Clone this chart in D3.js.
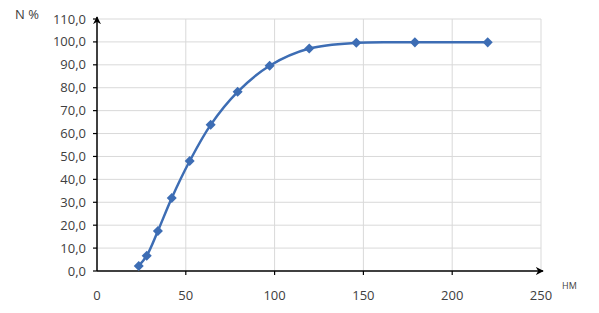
<!DOCTYPE html>
<html>
<head>
<meta charset="utf-8">
<script src="https://cdn.jsdelivr.net/npm/d3@7"></script>
<style>
  body { margin: 0; background: #fff; }
  text { font-family: "Open Sans", "Liberation Sans", sans-serif; fill: #404040; }
</style>
</head>
<body>
<script>
// wavelength (nm) vs N %
var xValues = [23.5, 28, 34.3, 42.1, 52.2, 64, 79.2, 97.2, 119.5, 146, 179, 220];
var yValues = [2.2, 6.7, 17.5, 31.9, 48, 63.8, 78.2, 89.6, 97.1, 99.6, 99.8, 99.8];
var xTicks = [0, 50, 100, 150, 200, 250];
var yTicks = [0, 10, 20, 30, 40, 50, 60, 70, 80, 90, 100, 110];

var w = 599, h = 313;
var svg = d3.select("body").append("svg")
    .attr("width", w)
    .attr("height", h);

var x = d3.scaleLinear().domain([0, 250]).range([97, 541]);
var y = d3.scaleLinear().domain([0, 110]).range([271, 19]);

var fmt = function(d) { return d3.format(".1f")(d).replace(".", ","); };

// grid
svg.append("g").selectAll("line")
    .data(yTicks.filter(function(d) { return d > 0; }))
    .enter().append("line")
    .attr("x1", x(0)).attr("x2", x(250))
    .attr("y1", function(d) { return y(d); })
    .attr("y2", function(d) { return y(d); })
    .attr("stroke", "#d9d9d9").attr("stroke-width", 1);

svg.append("g").selectAll("line")
    .data(xTicks.filter(function(d) { return d > 0; }))
    .enter().append("line")
    .attr("y1", y(0)).attr("y2", y(110))
    .attr("x1", function(d) { return x(d); })
    .attr("x2", function(d) { return x(d); })
    .attr("stroke", "#d9d9d9").attr("stroke-width", 1);

// arrow marker
svg.append("defs").append("marker")
    .attr("id", "arr")
    .attr("viewBox", "0 0 10 10")
    .attr("refX", 9).attr("refY", 5)
    .attr("markerWidth", 8).attr("markerHeight", 8)
    .attr("markerUnits", "userSpaceOnUse")
    .attr("orient", "auto")
    .append("path")
    .attr("d", "M0,0 L10,5 L0,10 L3,5 Z")
    .attr("fill", "#000");

// axes
svg.append("line")
    .attr("x1", x(0)).attr("x2", x(250) + 2)
    .attr("y1", y(0)).attr("y2", y(0))
    .attr("stroke", "#000").attr("stroke-width", 1.5)
    .attr("marker-end", "url(#arr)");
svg.append("line")
    .attr("x1", x(0)).attr("x2", x(0))
    .attr("y1", y(0)).attr("y2", y(110) - 2)
    .attr("stroke", "#000").attr("stroke-width", 1.5)
    .attr("marker-end", "url(#arr)");

// ticks
svg.append("g").selectAll("line")
    .data(yTicks)
    .enter().append("line")
    .attr("x1", x(0) - 4).attr("x2", x(0))
    .attr("y1", function(d) { return y(d); })
    .attr("y2", function(d) { return y(d); })
    .attr("stroke", "#000").attr("stroke-width", 1.2);
svg.append("g").selectAll("line")
    .data(xTicks.slice(1, 5))
    .enter().append("line")
    .attr("y1", y(0)).attr("y2", y(0) + 4)
    .attr("x1", function(d) { return x(d); })
    .attr("x2", function(d) { return x(d); })
    .attr("stroke", "#000").attr("stroke-width", 1.2);

// tick labels
svg.append("g").selectAll("text")
    .data(yTicks)
    .enter().append("text")
    .attr("x", 86)
    .attr("y", function(d) { return y(d) + 4.5; })
    .attr("text-anchor", "end")
    .attr("font-size", "13px")
    .text(fmt);
svg.append("g").selectAll("text")
    .data(xTicks)
    .enter().append("text")
    .attr("x", function(d) { return x(d); })
    .attr("y", 300)
    .attr("text-anchor", "middle")
    .attr("font-size", "13px")
    .text(function(d) { return d; });

svg.append("text").attr("x", 15).attr("y", 19)
    .attr("font-size", "13px").text("N %");
svg.append("text").attr("x", 562).attr("y", 289)
    .attr("font-size", "9px").text("НМ");

// series
var pts = xValues.map(function(d, i) { return [d, yValues[i]]; });
var line = d3.line()
    .x(function(d) { return x(d[0]); })
    .y(function(d) { return y(d[1]); })
    .curve(d3.curveCatmullRom.alpha(0.5));

svg.append("path")
    .datum(pts)
    .attr("d", line)
    .attr("fill", "none")
    .attr("stroke", "#3d6db4")
    .attr("stroke-width", 2.5);

svg.append("g").selectAll("path")
    .data(pts)
    .enter().append("path")
    .attr("d", d3.symbol().type(d3.symbolDiamond2).size(64))
    .attr("transform", function(d) { return "translate(" + x(d[0]) + "," + y(d[1]) + ")"; })
    .attr("fill", "#3d6db4");
</script>
</body>
</html>
